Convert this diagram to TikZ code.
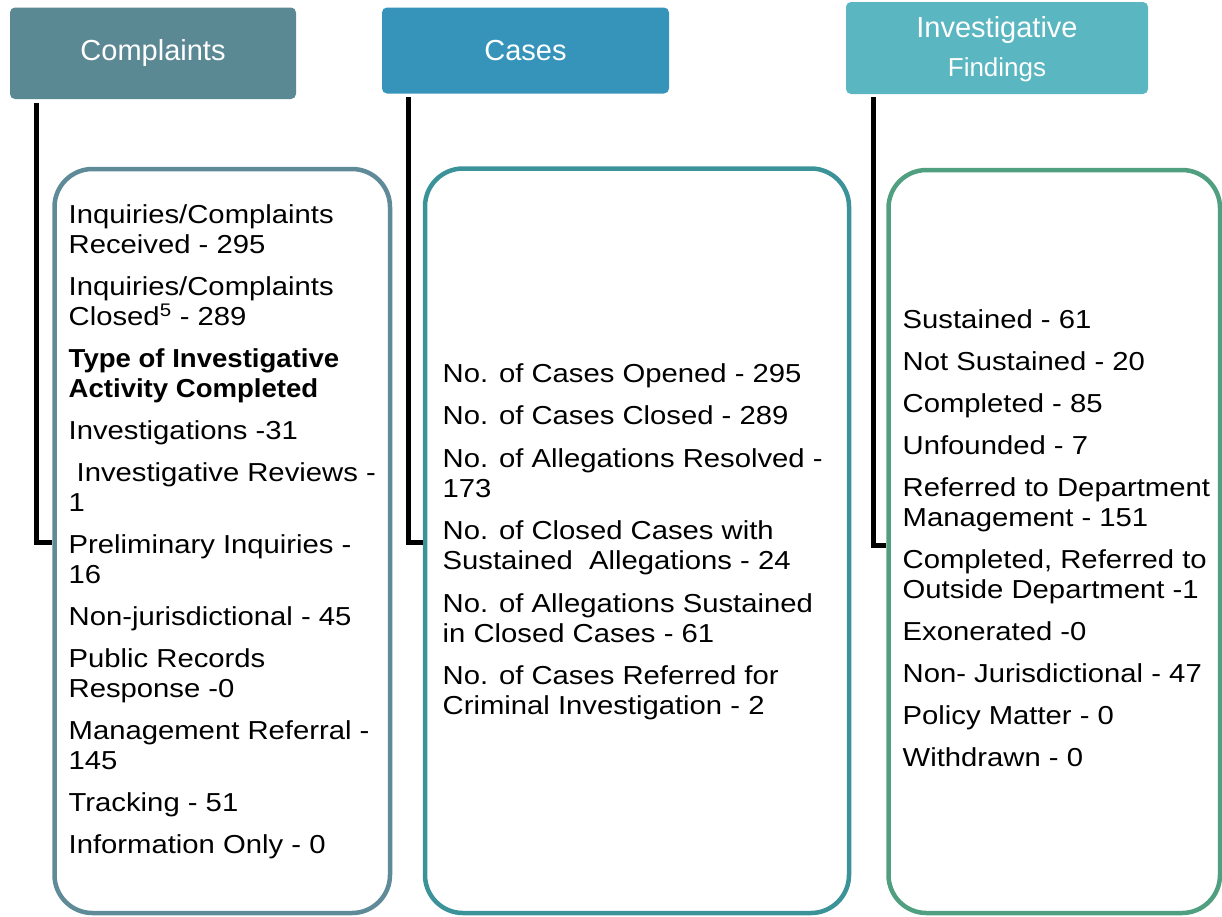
\documentclass[tikz,border=0pt]{standalone}
\usepackage{fontspec}
\setmainfont{Liberation Sans}
\newfontfamily\bodyfont{Liberation Sans}[FakeStretch=1.125]
\newfontfamily\bodybold{Liberation Sans Bold}[FakeStretch=1.06]
\definecolor{hA}{HTML}{5A8893}
\definecolor{hB}{HTML}{3694BA}
\definecolor{hC}{HTML}{5AB6C0}
\definecolor{pA}{HTML}{5E8B97}
\definecolor{pB}{HTML}{3C9299}
\definecolor{pC}{HTML}{4F9F80}
\begin{document}
\begin{tikzpicture}[x=1pt,y=-1pt,
  hdr/.style={fill=#1, text=white, rounded corners=5pt, inner sep=0pt,
    font=\fontsize{29}{33}\selectfont},
  panel/.style={draw=#1, line width=4.5pt, rounded corners=38pt, inner sep=0pt},
  body/.style={anchor=north west, align=left, inner sep=0pt,
    font=\bodyfont\fontsize{26}{30}\selectfont},
  conn/.style={line width=5pt, black}]
\useasboundingbox (0,0) rectangle (1222,916);
% headers
\node[hdr=hA, minimum width=286pt, minimum height=91.5pt] (h1) at (153,53.25) {Complaints};
\node[hdr=hB, minimum width=287pt, minimum height=86pt] (h2) at (525.5,50.5) {Cases};
\node[hdr=hC, minimum width=302pt, minimum height=92pt] (h3) at (997,48) {};
\node[anchor=base, text=white, inner sep=0pt, font=\fontsize{29}{33}\selectfont] (h3a) at (997,37) {Investigative};
\node[anchor=base, text=white, inner sep=0pt, font=\fontsize{26}{30}\selectfont] (h3b) at (997,76) {Findings};
% panels
\node[panel=pA, minimum width=335.5pt, minimum height=744pt] (b1) at (222.25,541) {};
\node[panel=pB, minimum width=424pt, minimum height=744.5pt] (b2) at (637,540.75) {};
\node[panel=pC, minimum width=331.5pt, minimum height=743pt] (b3) at (1054.25,541.5) {};
% connectors
\draw[conn] ([xshift=26.5pt,yshift=-3.5pt]h1.south west) |- ([yshift=-1pt]b1.west);
\draw[conn] ([xshift=27pt,yshift=-3.5pt]h2.south west) |- ([yshift=-2pt]b2.west);
\draw[conn] ([xshift=27.5pt,yshift=-3pt]h3.south west) |- ([yshift=-3.5pt]b3.west);
% texts
\node[body] (t1) at (68.5,202) {\strut Inquiries/Complaints\\ Received - 295\\[12pt]
Inquiries/Complaints\\ Closed\textsuperscript{5} - 289\\[12pt]
{\bodybold Type of Investigative}\\ {\bodybold Activity Completed}\\[12pt]
Investigations -31\\[12pt]
\hspace*{8pt}Investigative Reviews -\\ 1\\[12pt]
Preliminary Inquiries -\\ 16\\[12pt]
Non-jurisdictional - 45\\[12pt]
Public Records\\ Response -0\\[12pt]
Management Referral -\\ 145\\[12pt]
Tracking - 51\\[12pt]
Information Only - 0};
\node[body] (t2) at (442.5,361) {\strut No. of Cases Opened - 295\\[12.5pt]
No. of Cases Closed - 289\\[12.5pt]
No. of Allegations Resolved -\\ 173\\[12.5pt]
No. of Closed Cases with\\ Sustained\ \ Allegations - 24\\[12.5pt]
No. of Allegations Sustained\\ in Closed Cases - 61\\[12.5pt]
No. of Cases Referred for\\ Criminal Investigation - 2};
\node[body] (t3) at (902.5,307) {\strut Sustained - 61\\[12pt]
Not Sustained - 20\\[12pt]
Completed - 85\\[12pt]
Unfounded - 7\\[12pt]
Referred to Department\\ Management - 151\\[12pt]
Completed, Referred to\\ Outside Department -1\\[12pt]
Exonerated -0\\[12pt]
Non- Jurisdictional - 47\\[12pt]
Policy Matter - 0\\[12pt]
Withdrawn - 0};
\end{tikzpicture}
\end{document}
